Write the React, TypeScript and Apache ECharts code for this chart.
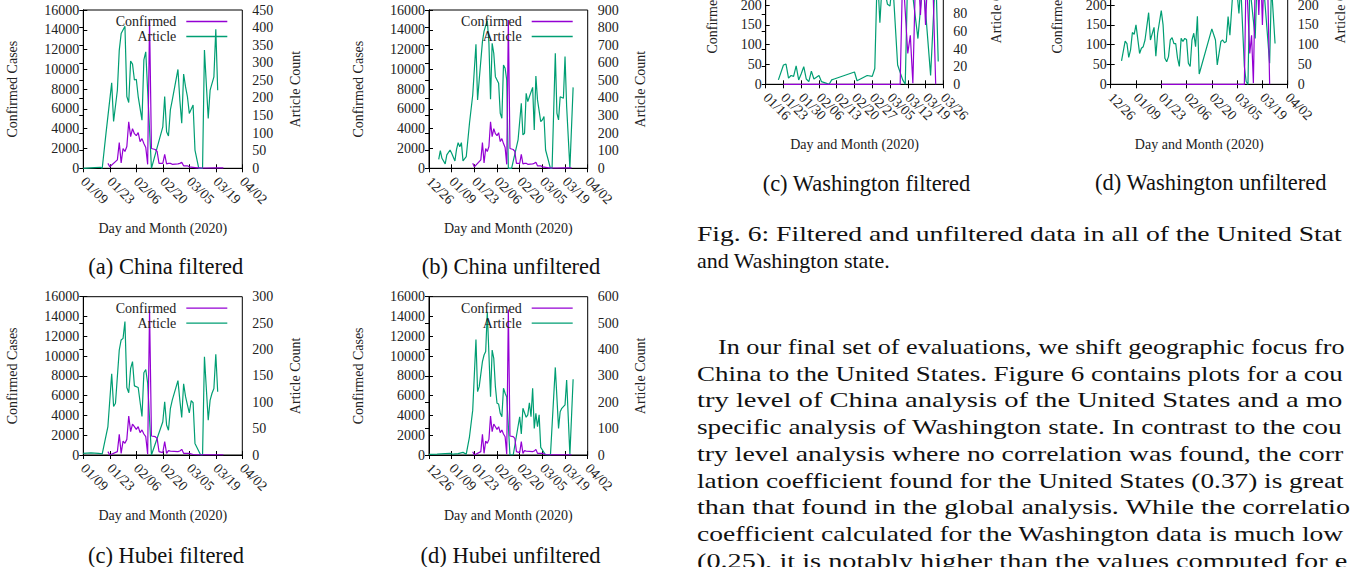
import React, { useEffect, useRef } from "react";
import * as echarts from "echarts";

// All dates are counted in days since 2019-12-26 (12/26 = 0, 01/09 = 14, 01/16 = 21, 04/02 = 98)
const chinaConfirmed: [number, number][] = [[27,500],[28,150],[32,850],[33,2600],[34,550],[35,2000],[36,1700],[37,2200],[38,4700],[39,3200],[40,4000],[41,3500],[42,3300],[43,3600],[44,2700],[45,3000],[46,2500],[47,2100],[48,400],[49,15000],[50,2000],[52,1900],[53,1700],[54,500],[56,500],[57,1400],[58,450],[59,500],[60,500],[61,400],[64,450],[65,500],[66,600],[67,250],[69,250],[70,150],[72,100],[74,50],[76,40],[79,30],[84,50],[88,40]];
const chinaArticleFiltered: [number, number][] = [[14,0],[20,2],[23,3],[24,0],[26,100],[29,243],[30,133],[32,222],[33,336],[34,383],[36,404],[37,204],[38,187],[39,305],[40,296],[41,251],[42,253],[43,204],[45,137],[46,308],[47,331],[50,0],[56,118],[57,204],[58,104],[59,92],[60,166],[61,194],[64,281],[65,194],[66,128],[67,268],[68,232],[69,204],[70,156],[72,180],[73,52],[75,0],[77,0],[78,336],[80,142],[81,222],[83,260],[84,395],[85,222]];
const chinaArticleUnfiltered: [number, number][] = [[6,51],[7,100],[8,57],[10,25],[11,76],[13,104],[14,85],[16,42],[17,108],[18,146],[19,123],[20,146],[21,42],[23,66],[25,256],[27,417],[29,705],[30,388],[31,502],[33,720],[34,780],[36,840],[37,711],[38,392],[39,711],[40,654],[41,521],[43,483],[44,313],[45,284],[46,587],[47,569],[48,502],[49,0],[51,0],[55,161],[57,370],[58,190],[59,199],[60,426],[61,379],[62,407],[64,460],[65,218],[66,525],[67,389],[69,265],[70,275],[71,294],[72,104],[75,0],[76,0],[78,654],[79,313],[80,275],[81,407],[83,398],[84,635],[85,351],[87,0],[89,460]];
const hubeiConfirmed: [number, number][] = [[27,340],[28,0],[32,340],[33,2090],[34,170],[35,1400],[36,1180],[37,1580],[38,3940],[39,2360],[40,3130],[41,2860],[42,2590],[43,2860],[44,2260],[45,2530],[46,2120],[47,1850],[48,70],[49,14700],[50,1920],[52,1850],[53,1680],[54,340],[56,240],[57,1350],[58,170],[59,440],[60,400],[64,340],[65,400],[66,570],[67,170],[70,170],[72,50],[75,20],[80,10],[88,5]];
const hubeiArticleFiltered: [number, number][] = [[14,3],[18,4],[22,3],[24,2],[27,54],[29,154],[30,92],[31,98],[33,199],[34,218],[35,221],[36,253],[37,128],[38,118],[39,164],[40,177],[41,131],[43,128],[45,73],[46,156],[47,162],[48,136],[50,0],[56,63],[57,101],[58,57],[59,47],[60,88],[61,104],[64,141],[65,104],[66,71],[67,135],[68,111],[69,95],[70,80],[71,103],[72,99],[73,22],[76,0],[77,0],[78,186],[80,66],[81,104],[82,117],[83,126],[84,191],[85,120]];
const hubeiArticleUnfiltered: [number, number][] = [[0,2],[5,3],[10,5],[13,6],[15,3],[18,5],[21,10],[23,3],[25,69],[27,170],[29,438],[30,240],[31,259],[33,354],[34,379],[35,392],[36,543],[38,221],[39,398],[40,366],[41,259],[42,196],[43,193],[44,158],[45,145],[46,253],[47,234],[48,220],[50,0],[52,0],[56,145],[57,80],[58,177],[60,143],[61,152],[62,198],[63,145],[64,253],[65,101],[66,158],[67,107],[68,152],[69,29],[72,0],[75,0],[78,332],[80,101],[81,164],[82,177],[84,190],[85,284],[87,0],[89,287]];
const waConfirmed: [number, number][] = [[28,0],[73,0],[74,0],[75,290],[77,78],[78,124],[79,3],[80,260],[81,300],[82,175],[83,300],[84,150],[85,300],[86,260],[87,230],[88,0]];
const waArticleFiltered: [number, number][] = [[26,5],[28,22],[29,23],[30,7],[31,10],[32,9],[33,21],[34,5],[35,12],[36,20],[37,6],[38,3],[39,15],[40,6],[41,8],[42,10],[43,3],[45,1],[46,0],[47,5],[48,6],[56,14],[57,4],[61,10],[63,9],[64,18],[65,130],[66,70],[67,120],[69,91],[70,89],[71,120],[73,22],[75,5],[76,0],[77,130],[79,100],[81,52],[83,120],[86,10],[88,130],[89,26]];
const waArticleUnfiltered: [number, number][] = [[6,59],[8,109],[9,103],[10,68],[11,87],[12,131],[13,126],[14,150],[16,78],[17,91],[18,95],[19,112],[21,181],[22,112],[24,144],[25,71],[26,129],[28,186],[29,150],[30,66],[31,57],[32,70],[33,112],[34,118],[35,103],[36,103],[37,66],[38,45],[39,116],[40,108],[41,116],[42,113],[43,53],[44,45],[45,112],[46,129],[47,95],[48,172],[49,26],[56,140],[58,112],[59,49],[61,108],[62,112],[63,105],[64,108],[65,171],[66,124],[68,260],[70,230],[71,179],[72,250],[74,45],[75,7],[76,0],[77,250],[80,116],[81,260],[85,230],[88,53],[89,250],[91,103]];

const captions = ["(a) China filtered", "(b) China unfiltered", "(c) Hubei filtered", "(d) Hubei unfiltered", "(c) Washington filtered", "(d) Washington unfiltered"];
const figCaption = ["Fig. 6: Filtered and unfiltered data in all of the United States", "and Washington state."];
const paragraph = [
  "In our final set of evaluations, we shift geographic focus from",
  "China to the United States. Figure 6 contains plots for a coun-",
  "try level of China analysis of the United States and a more",
  "specific analysis of Washington state. In contrast to the coun-",
  "try level analysis where no correlation was found, the corre-",
  "lation coefficient found for the United States (0.37) is greater",
  "than that found in the global analysis. While the correlation",
  "coefficient calculated for the Washington data is much lower",
  "(0.25), it is notably higher than the values computed for ei-",
];

const FONT = '"Liberation Serif", "Times New Roman", serif';
const PURPLE = "#9400d3";
const GREEN = "#009e73";
const TXT = "#222";
const W = 1353;
const H = 567;

function dateLabel(d: number): string {
  const dt = new Date(2019, 11, 26 + Math.round(d));
  const m = dt.getMonth() + 1;
  const day = dt.getDate();
  return (m < 10 ? "0" : "") + m + "/" + (day < 10 ? "0" : "") + day;
}

type Panel = {
  left: number; top: number; width: number; height: number;
  xStart: number; xSpan: number; xStep: number;
  yMax: number; yStep: number; y2Max: number; y2Step: number;
  confirmed: [number, number][]; article: [number, number][];
  caption: string; capX: number; capY: number; legend: boolean;
  leftGap: number; rightGap: number;
};

const panels: Panel[] = [
  { left: 83.3, top: 10, width: 159, height: 158.3, xStart: 14, xSpan: 84, xStep: 14, yMax: 16000, yStep: 2000, y2Max: 450, y2Step: 50, confirmed: chinaConfirmed, article: chinaArticleFiltered, caption: captions[0], capX: 165.8, capY: 266.7, legend: true, leftGap: 64, rightGap: 46 },
  { left: 429, top: 10, width: 158.7, height: 158.3, xStart: 0, xSpan: 98, xStep: 14, yMax: 16000, yStep: 2000, y2Max: 900, y2Step: 100, confirmed: chinaConfirmed, article: chinaArticleUnfiltered, caption: captions[1], capX: 511, capY: 266.7, legend: true, leftGap: 64, rightGap: 46 },
  { left: 83.3, top: 296.7, width: 159, height: 158.3, xStart: 14, xSpan: 84, xStep: 14, yMax: 16000, yStep: 2000, y2Max: 300, y2Step: 50, confirmed: hubeiConfirmed, article: hubeiArticleFiltered, caption: captions[2], capX: 166, capY: 555, legend: true, leftGap: 64, rightGap: 46 },
  { left: 429, top: 296.7, width: 158.7, height: 158.3, xStart: 0, xSpan: 98, xStep: 14, yMax: 16000, yStep: 2000, y2Max: 600, y2Step: 100, confirmed: hubeiConfirmed, article: hubeiArticleUnfiltered, caption: captions[3], capX: 510.5, capY: 555, legend: true, leftGap: 64, rightGap: 46 },
  { left: 765.7, top: -74, width: 177.6, height: 158.3, xStart: 21, xSpan: 70, xStep: 7, yMax: 400, yStep: 50, y2Max: 180, y2Step: 20, confirmed: waConfirmed, article: waArticleFiltered, caption: captions[4], capX: 866.5, capY: 183, legend: false, leftGap: 46, rightGap: 46 },
  { left: 1110.7, top: -74, width: 177, height: 158.3, xStart: 0, xSpan: 98, xStep: 14, yMax: 400, yStep: 50, y2Max: 400, y2Step: 50, confirmed: waConfirmed, article: waArticleUnfiltered, caption: captions[5], capX: 1210.8, capY: 182, legend: false, leftGap: 46, rightGap: 46 },
];

function measure(text: string, font: string): number {
  const c = document.createElement("canvas").getContext("2d");
  if (!c) return text.length * 10;
  c.font = font;
  return c.measureText(text).width;
}

const axisText = { fontFamily: FONT, fontSize: 14, color: TXT };

function buildOption() {
  const grid: any[] = [];
  const xAxis: any[] = [];
  const yAxis: any[] = [];
  const series: any[] = [];
  const legend: any[] = [];
  const graphic: any[] = [];
  const line = { lineStyle: { color: "#000", width: 1 } };
  const tick = { show: true, inside: true, length: 4, lineStyle: { color: "#000", width: 1 } };

  panels.forEach((p, i) => {
    grid.push({ left: p.left, top: p.top, width: p.width, height: p.height, show: true, borderColor: "#000", borderWidth: 1, containLabel: false, outerBoundsMode: "none" });
    const xs = p.xStart;
    // hide tick labels that would lie entirely above the page
    const visible = (v: number, max: number) => p.top + p.height - (v / max) * p.height > 0;
    xAxis.push({
      type: "value", gridIndex: i, position: "bottom", min: 0, max: p.xSpan, interval: p.xStep,
      axisLine: { show: true, ...line }, axisTick: tick, splitLine: { show: false },
      // date tick labels are drawn below (rotated graphic texts placed at the axis' own tick pixels)
      axisLabel: { show: false },
      name: "Day and Month (2020)", nameLocation: "middle", nameGap: 53, nameTextStyle: axisText,
    });
    xAxis.push({
      type: "value", gridIndex: i, position: "top", min: 0, max: p.xSpan, interval: p.xStep,
      axisLine: { show: true, ...line }, axisTick: tick, splitLine: { show: false }, axisLabel: { show: false },
    });
    yAxis.push({
      type: "value", gridIndex: i, position: "left", min: 0, max: p.yMax, interval: p.yStep,
      axisLine: { show: true, ...line }, axisTick: tick, splitLine: { show: false },
      axisLabel: { ...axisText, margin: 4, formatter: (v: number) => (visible(v, p.yMax) ? String(v) : "") },
      name: "Confirmed Cases", nameLocation: "middle", nameRotate: 90, nameGap: p.leftGap, nameTextStyle: axisText,
    });
    yAxis.push({
      type: "value", gridIndex: i, position: "right", min: 0, max: p.y2Max, interval: p.y2Step,
      axisLine: { show: true, ...line }, axisTick: tick, splitLine: { show: false },
      axisLabel: { ...axisText, margin: 10, formatter: (v: number) => (visible(v, p.y2Max) ? String(v) : "") },
      name: "Article Count", nameLocation: "middle", nameRotate: 90, nameGap: p.rightGap, nameTextStyle: axisText,
    });
    series.push({
      name: "Confirmed", type: "line", xAxisIndex: 2 * i, yAxisIndex: 2 * i, symbol: "none", showSymbol: false,
      lineStyle: { color: PURPLE, width: 1.2 }, itemStyle: { color: PURPLE },
      data: p.confirmed.map(([d, v]) => [d - xs, v]), clip: true, z: 3,
    });
    series.push({
      name: "Article", type: "line", xAxisIndex: 2 * i, yAxisIndex: 2 * i + 1, symbol: "none", showSymbol: false,
      lineStyle: { color: GREEN, width: 1.2 }, itemStyle: { color: GREEN },
      data: p.article.map(([d, v]) => [d - xs, v]), clip: true, z: 2,
    });
    if (p.legend) {
      const sampleRight = p.left + p.width - 15;
      ([["Confirmed", 12.5, PURPLE], ["Article", 27.5, GREEN]] as [string, number, string][]).forEach(([name, dy, color]) => {
        legend.push({
          data: [{ name, icon: "rect", itemStyle: { color } }], orient: "horizontal", right: W - sampleRight, top: p.top + dy - 8,
          itemWidth: 41, itemHeight: 1.3, itemGap: 0, padding: 0, selectedMode: false, align: "right",
          textStyle: { ...axisText, padding: [0, 5, 0, 0] },
        });
      });
    }
    graphic.push({
      type: "text", x: p.capX, y: p.capY,
      style: { text: p.caption, font: `22.5px ${FONT}`, fill: "#111", align: "center", verticalAlign: "middle" },
    });
  });

  // Figure caption and body paragraph: justified lines of the right column, cut at the page edge
  const bodyFont = `22px ${FONT}`;
  const colLeft = 697;
  const colRight = 1365;
  const pushLine = (text: string, x: number, y: number, justify: boolean) => {
    const w = measure(text, bodyFont);
    const sx = justify ? (colRight - x) / w : 1;
    let shown = text;
    while (shown.length > 1 && x + measure(shown, bodyFont) * sx > W - 1) shown = shown.slice(0, -1);
    graphic.push({
      type: "text", x, y, scaleX: sx, scaleY: 1,
      style: { text: shown, font: bodyFont, fill: "#111", align: "left", verticalAlign: "middle" },
    });
  };
  pushLine(figCaption[0], colLeft, 233.3, true);
  pushLine(figCaption[1], colLeft, 260, false);
  paragraph.forEach((t, k) => {
    pushLine(t, k === 0 ? 718 : colLeft, 346.7 + k * 26.67, true);
  });

  return { animation: false, backgroundColor: "#fff", grid, xAxis, yAxis, series, legend, graphic };
}

export default function App() {
  const ref = useRef<HTMLDivElement>(null);
  useEffect(() => {
    if (!ref.current) return;
    const chart = echarts.init(ref.current, undefined, { renderer: "svg" });
    const option = buildOption();
    chart.setOption(option as any);
    // rotated date tick labels (gnuplot style: every label kept, even when they touch)
    const labels: any[] = [];
    panels.forEach((p, i) => {
      const py = chart.convertToPixel({ yAxisIndex: 2 * i }, 0) as number;
      for (let v = 0; v <= p.xSpan; v += p.xStep) {
        const px = chart.convertToPixel({ xAxisIndex: 2 * i }, v) as number;
        labels.push({
          type: "text", x: px, y: py + 11, rotation: -Math.PI / 4,
          style: { text: dateLabel(p.xStart + v), font: `14px ${FONT}`, fill: TXT, align: "left", verticalAlign: "middle" },
        });
      }
    });
    chart.setOption({ graphic: [...option.graphic, ...labels] } as any);
    return () => chart.dispose();
  }, []);
  return <div ref={ref} style={{ position: "absolute", left: 0, top: 0, width: W, height: H }} />;
}
